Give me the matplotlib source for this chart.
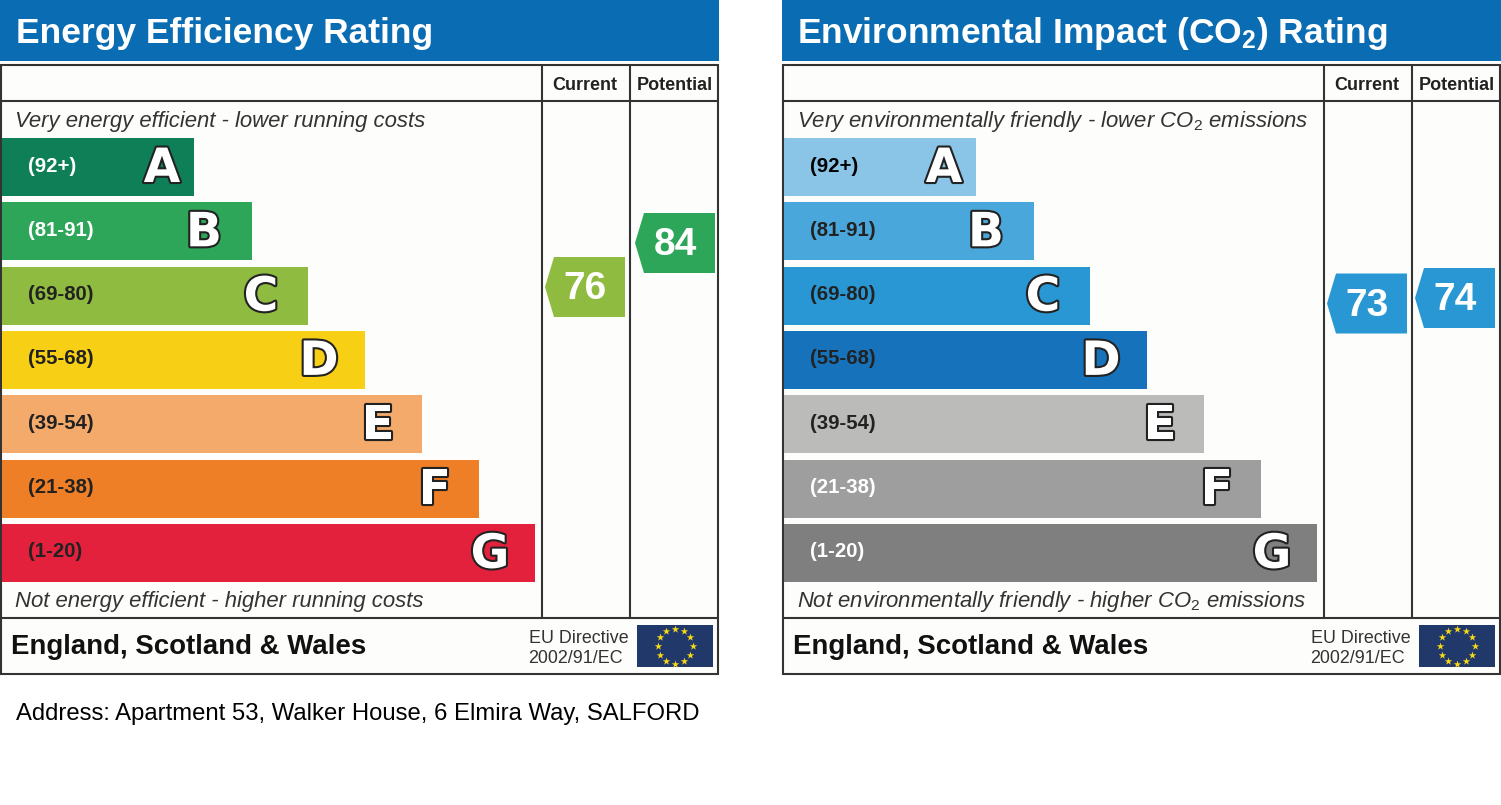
import matplotlib
matplotlib.use('Agg')
import numpy as np
import matplotlib.pyplot as plt
import matplotlib.patheffects as pe
from matplotlib.patches import Rectangle, Polygon

plt.rcParams['font.family'] = ['Liberation Sans', 'DejaVu Sans']
plt.rcParams['mathtext.fontset'] = 'custom'
plt.rcParams['mathtext.rm'] = 'Liberation Sans'
plt.rcParams['mathtext.it'] = 'Liberation Sans:italic'
plt.rcParams['mathtext.bf'] = 'Liberation Sans:bold'

# data
bands = ['A', 'B', 'C', 'D', 'E', 'F', 'G']
ranges = ['(92+)', '(81-91)', '(69-80)', '(55-68)', '(39-54)', '(21-38)', '(1-20)']
bar_lengths = [192, 250, 306, 363, 420, 477, 533]
letter_inset = [32, 48, 47, 46, 44, 44, 45]
energy_colors = ['#0f7f58', '#2da65a', '#8fbc40', '#f7cf15', '#f4aa6b', '#ee7f26', '#e3213c']
co2_colors = ['#8ac4e7', '#4aa7dc', '#2897d3', '#1673bb', '#bbbbb9', '#9e9e9e', '#7f7f7f']
energy_text = ['white', 'white', '#222222', '#222222', '#222222', '#222222', '#222222']
co2_text = ['black', '#222222', '#222222', '#222222', '#222222', 'white', 'white']
energy_scores = [76, 84]
co2_scores = [73, 74]
energy_score_colors = ['#8fbc40', '#2da65a']
co2_score_colors = ['#2897d3', '#2897d3']

LINE = '#333333'
fig = plt.figure(figsize=(15.01, 8.05), dpi=100, facecolor='white')
ax = fig.add_axes([0, 0, 1, 1])
ax.set_xlim(0, 1501)
ax.set_ylim(805, 0)
ax.axis('off')


def score_y(score):
    return 287 - 5.5 * (score - 76)


def draw_stars(cx, cy):
    ang = np.deg2rad(np.arange(0, 360, 30))
    ax.scatter(cx + 17.5 * np.cos(ang), cy + 17.5 * np.sin(ang), marker='*', s=32,
               color='#f7d917', linewidths=0, zorder=4)


def draw_panel(x0, title, top, bottom, colors, text_colors, scores, score_colors):
    ax.add_patch(Rectangle((x0, 0), 719, 61, fc='#0a6cb3', ec='none'))
    ax.text(x0 + (15 if x0 else 16), 33, title, color='white', fontsize=25.5, fontweight='bold', va='center')
    ax.add_patch(Rectangle((x0 + 1, 65), 717, 609, fc='#fdfdfb', ec=LINE, lw=1.5, zorder=3))
    for y in [101, 618]:
        ax.plot([x0, x0 + 719], [y, y], color=LINE, lw=1.5, zorder=3, solid_capstyle='butt')
    for x in [x0 + 542, x0 + 630]:
        ax.plot([x, x], [65, 618], color=LINE, lw=1.5, zorder=3, solid_capstyle='butt')
    ax.text(x0 + 585, 85, 'Current', color='#222222', fontsize=13, fontweight='bold',
            ha='center', va='center', zorder=4)
    ax.text(x0 + 674.5, 85, 'Potential', color='#222222', fontsize=13, fontweight='bold',
            ha='center', va='center', zorder=4)
    ax.text(x0 + 15, 121, top, color='#333333', fontsize=15.9, style='italic', va='center', zorder=4)
    ax.text(x0 + 15, 601, bottom, color='#333333', fontsize=15.9, style='italic', va='center', zorder=4)

    for i, band in enumerate(bands):
        y = 138 + i * 64.3
        ax.add_patch(Rectangle((x0 + 2, y), bar_lengths[i], 58, fc=colors[i], ec='none', zorder=4))
        ax.text(x0 + 28, y + 28, ranges[i], color=text_colors[i], fontsize=14.7, fontweight='bold',
                va='center', zorder=5)
        ax.text(x0 + bar_lengths[i] + 2 - letter_inset[i], y + 31.5, band, color='white', fontsize=34,
                fontweight='bold', family='DejaVu Sans', ha='center', va='center', zorder=5,
                path_effects=[pe.withStroke(linewidth=3, foreground='#222222')])

    for j, (score, col) in enumerate(zip(scores, score_colors)):
        left = x0 + 545 + j * 90 - (x0 > 0) * j * 2
        yc = score_y(score)
        pts = [(left, yc), (left + 9, yc - 30), (left + 80, yc - 30), (left + 80, yc + 30), (left + 9, yc + 30)]
        ax.add_patch(Polygon(pts, closed=True, fc=col, ec='none', zorder=4))
        ax.text(left + 40, yc + 2, str(score), color='white', fontsize=28, fontweight='bold',
                ha='center', va='center', zorder=5)

    ax.text(x0 + 11, 647, 'England, Scotland & Wales', color='#111111', fontsize=19.9, fontweight='bold',
            va='center', zorder=4)
    ax.text(x0 + 529, 638, 'EU Directive', color='#333333', fontsize=12.9, va='center', zorder=4)
    ax.text(x0 + 528, 658, '2002/91/EC', color='#333333', fontsize=12.9, va='center', zorder=4)
    ax.add_patch(Rectangle((x0 + 637, 625), 76, 42, fc='#21386b', ec='none', zorder=4))
    draw_stars(x0 + 675, 646)


draw_panel(0, 'Energy Efficiency Rating', 'Very energy efficient - lower running costs',
           'Not energy efficient - higher running costs', energy_colors, energy_text,
           energy_scores, energy_score_colors)
draw_panel(782, r'Environmental Impact (CO$_{\mathbf{2}}$) Rating',
           r'Very environmentally friendly - lower CO$_{2}$ emissions',
           r'Not environmentally friendly - higher CO$_{2}$ emissions', co2_colors, co2_text,
           co2_scores, co2_score_colors)

ax.text(16, 714, 'Address: Apartment 53, Walker House, 6 Elmira Way, SALFORD', color='black',
        fontsize=17.2, va='center')

fig.savefig('out.png', dpi=100)
